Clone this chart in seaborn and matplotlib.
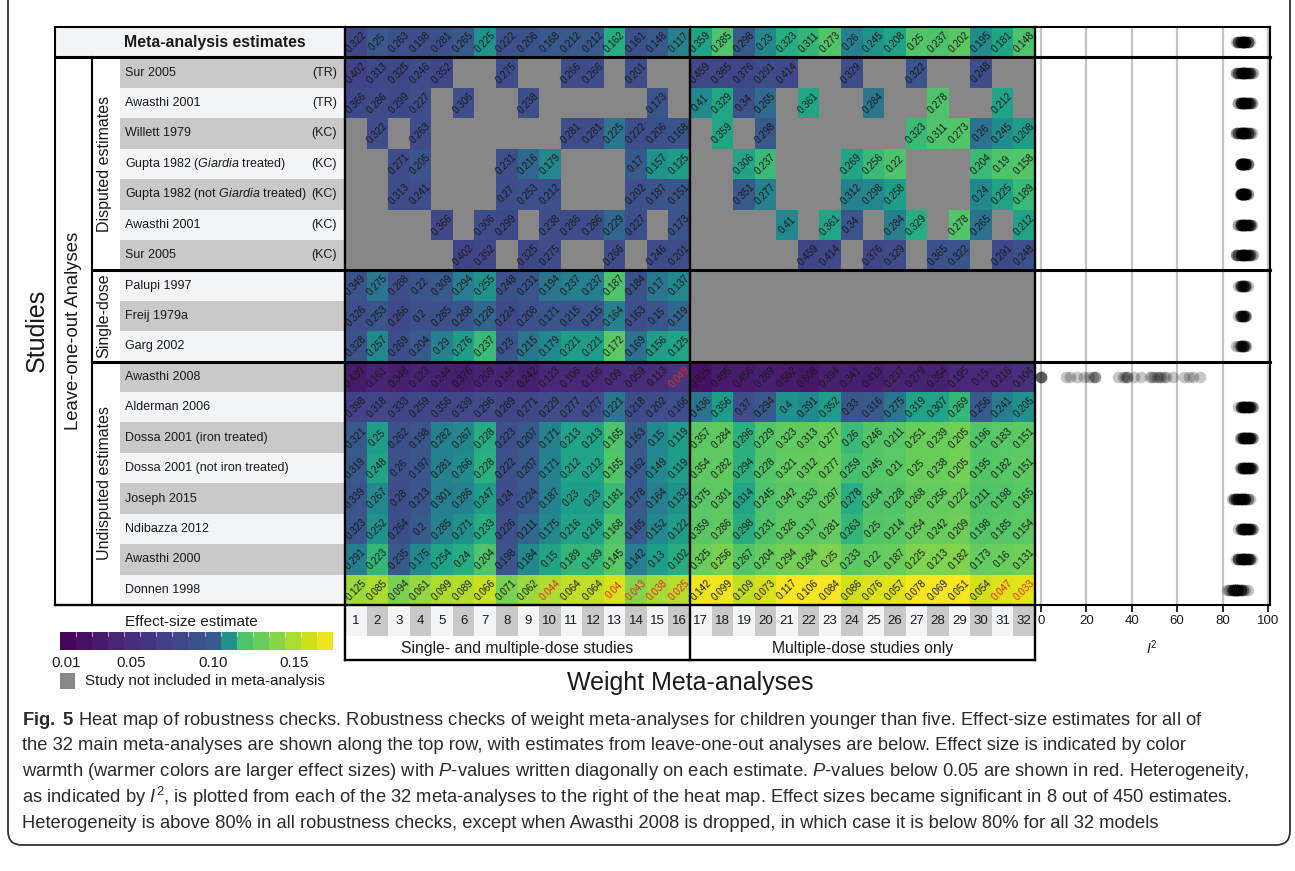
import numpy as np
import pandas as pd
import matplotlib
matplotlib.use("Agg")
import matplotlib.pyplot as plt
import seaborn as sns
from matplotlib.colors import ListedColormap, BoundaryNorm
from matplotlib.cm import ScalarMappable
from matplotlib.patches import Rectangle, FancyBboxPatch

N = np.nan

# ---------------- data ----------------
row_labels = ["Meta-analysis estimates", "Sur 2005", "Awasthi 2001", "Willett 1979",
              r"Gupta 1982 ($\mathit{Giardia}$ treated)", r"Gupta 1982 (not $\mathit{Giardia}$ treated)",
              "Awasthi 2001", "Sur 2005", "Palupi 1997", "Freij 1979a", "Garg 2002", "Awasthi 2008",
              "Alderman 2006", "Dossa 2001 (iron treated)", "Dossa 2001 (not iron treated)",
              "Joseph 2015", "Ndibazza 2012", "Awasthi 2000", "Donnen 1998"]
row_tags = ["", "(TR)", "(TR)", "(KC)", "(KC)", "(KC)", "(KC)", "(KC)",
            "", "", "", "", "", "", "", "", "", "", ""]
group_names = ["Disputed estimates", "Single-dose", "Undisputed estimates"]
group_rows = [(1, 8), (8, 11), (11, 19)]
column_numbers = list(range(1, 33))
column_groups = ["Single- and multiple-dose studies", "Multiple-dose studies only"]

# P-values written on the cells (NaN = study not included)
p_values = [
 [0.322,0.25,0.263,0.198,0.281,0.265,0.225,0.222,0.206,0.168,0.212,0.212,0.162,0.161,0.148,0.117,
  0.359,0.285,0.298,0.23,0.323,0.311,0.273,0.26,0.245,0.208,0.25,0.237,0.202,0.195,0.181,0.148],
 [0.402,0.313,0.325,0.246,0.352,N,N,0.275,N,N,0.266,0.266,N,0.201,N,N,
  0.459,0.365,0.376,0.291,0.414,N,N,0.329,N,N,0.322,N,N,0.248,N,N],
 [0.366,0.286,0.299,0.227,N,0.306,N,N,0.238,N,N,N,N,N,0.173,N,
  0.41,0.329,0.34,0.265,N,0.361,N,N,0.284,N,N,0.278,N,N,0.212,N],
 [N,0.322,N,0.263,N,N,N,N,N,N,0.281,0.281,0.225,0.222,0.206,0.168,
  N,0.359,N,0.298,N,N,N,N,N,N,0.323,0.311,0.273,0.26,0.245,0.208],
 [N,N,0.271,0.205,N,N,N,0.231,0.216,0.179,N,N,N,0.17,0.157,0.125,
  N,N,0.306,0.237,N,N,N,0.269,0.256,0.22,N,N,N,0.204,0.19,0.158],
 [N,N,0.313,0.241,N,N,N,0.27,0.253,0.212,N,N,N,0.202,0.187,0.151,
  N,N,0.351,0.277,N,N,N,0.312,0.298,0.258,N,N,N,0.24,0.225,0.189],
 [N,N,N,N,0.366,N,0.306,0.299,N,0.238,0.286,0.286,0.229,0.227,N,0.173,
  N,N,N,N,0.41,N,0.361,0.34,N,0.284,0.329,N,0.278,0.265,N,0.212],
 [N,N,N,N,N,0.402,0.352,N,0.325,0.275,N,N,0.266,N,0.246,0.201,
  N,N,N,N,N,0.459,0.414,N,0.376,0.329,N,0.365,0.322,N,0.291,0.248],
 [0.349,0.275,0.288,0.22,0.309,0.294,0.255,0.248,0.231,0.194,0.237,0.237,0.187,0.184,0.17,0.137,
  N,N,N,N,N,N,N,N,N,N,N,N,N,N,N,N],
 [0.326,0.253,0.266,0.2,0.285,0.268,0.228,0.224,0.208,0.171,0.215,0.215,0.164,0.163,0.15,0.119,
  N,N,N,N,N,N,N,N,N,N,N,N,N,N,N,N],
 [0.328,0.257,0.269,0.204,0.29,0.276,0.237,0.23,0.215,0.179,0.221,0.221,0.172,0.169,0.156,0.125,
  N,N,N,N,N,N,N,N,N,N,N,N,N,N,N,N],
 [0.439,0.161,0.348,0.123,0.244,0.376,0.209,0.144,0.242,0.123,0.106,0.106,0.09,0.059,0.113,0.049,
  0.825,0.495,0.456,0.289,0.562,0.608,0.394,0.341,0.413,0.237,0.279,0.354,0.195,0.15,0.216,0.104],
 [0.398,0.318,0.333,0.259,0.356,0.339,0.296,0.289,0.271,0.229,0.277,0.277,0.221,0.218,0.202,0.166,
  0.436,0.356,0.37,0.294,0.4,0.391,0.352,0.33,0.316,0.275,0.319,0.307,0.269,0.256,0.241,0.205],
 [0.321,0.25,0.262,0.198,0.282,0.267,0.228,0.223,0.207,0.171,0.213,0.213,0.165,0.163,0.15,0.119,
  0.357,0.284,0.296,0.229,0.323,0.313,0.277,0.26,0.246,0.211,0.251,0.239,0.205,0.196,0.183,0.151],
 [0.319,0.248,0.26,0.197,0.281,0.266,0.228,0.222,0.207,0.171,0.212,0.212,0.165,0.162,0.149,0.119,
  0.354,0.282,0.294,0.228,0.321,0.312,0.277,0.259,0.245,0.21,0.25,0.238,0.205,0.195,0.182,0.151],
 [0.339,0.267,0.28,0.213,0.301,0.286,0.247,0.24,0.224,0.187,0.23,0.23,0.181,0.178,0.164,0.132,
  0.375,0.301,0.314,0.245,0.342,0.333,0.297,0.278,0.264,0.228,0.268,0.256,0.222,0.211,0.198,0.165],
 [0.323,0.252,0.264,0.2,0.285,0.271,0.233,0.226,0.211,0.175,0.216,0.216,0.168,0.165,0.152,0.122,
  0.359,0.286,0.298,0.231,0.326,0.317,0.281,0.263,0.25,0.214,0.254,0.242,0.209,0.198,0.185,0.154],
 [0.291,0.223,0.235,0.175,0.254,0.24,0.204,0.198,0.184,0.15,0.189,0.189,0.145,0.142,0.13,0.102,
  0.325,0.256,0.267,0.204,0.294,0.284,0.25,0.233,0.22,0.187,0.225,0.213,0.182,0.173,0.16,0.131],
 [0.125,0.085,0.094,0.061,0.099,0.089,0.066,0.071,0.062,0.044,0.064,0.064,0.04,0.043,0.038,0.025,
  0.142,0.099,0.109,0.073,0.117,0.106,0.084,0.086,0.076,0.057,0.078,0.069,0.051,0.054,0.047,0.033],
]

# effect-size estimates (cell colour), read from the colours
effect_sizes = [
 [0.080,0.100,0.090,0.088,0.090,0.100,0.110,0.090,0.092,0.100,0.100,0.100,0.115,0.090,0.100,0.107,
  0.113,0.120,0.100,0.108,0.115,0.117,0.122,0.106,0.110,0.113,0.122,0.120,0.125,0.109,0.114,0.120],
 [0.075,0.082,0.080,0.085,0.080,N,N,0.085,N,N,0.085,0.085,N,0.087,N,N,
  0.080,0.080,0.080,0.085,0.082,N,N,0.085,N,N,0.098,N,N,0.088,N,N],
 [0.082,0.085,0.083,0.088,N,0.088,N,N,0.088,N,N,N,N,N,0.097,N,
  0.108,0.114,0.090,0.103,N,0.114,N,N,0.105,N,N,0.120,N,N,0.113,N],
 [N,0.085,N,0.085,N,N,N,N,N,N,0.088,0.088,0.105,0.088,0.092,0.098,
  N,0.114,N,0.100,N,N,N,N,N,N,0.118,0.120,0.122,0.104,0.109,0.112],
 [N,N,0.085,0.098,N,N,N,0.090,0.102,0.108,N,N,N,0.100,0.110,0.112,
  N,N,0.114,0.118,N,N,N,0.114,0.118,0.120,N,N,N,0.118,0.120,0.122],
 [N,N,0.085,0.088,N,N,N,0.088,0.090,0.092,N,N,N,0.090,0.096,0.098,
  N,N,0.100,0.107,N,N,N,0.107,0.108,0.112,N,N,N,0.108,0.113,0.118],
 [N,N,N,N,0.082,N,0.085,0.083,N,0.088,0.085,0.085,0.102,0.088,N,0.096,
  N,N,N,N,0.108,N,0.114,0.098,N,0.106,0.115,N,0.122,0.104,N,0.113],
 [N,N,N,N,N,0.075,0.080,N,0.080,0.085,N,N,0.085,N,0.085,0.087,
  N,N,N,N,N,0.078,0.082,N,0.080,0.085,N,0.092,0.098,N,0.082,0.090],
 [0.095,0.105,0.088,0.098,0.100,0.106,0.110,0.090,0.098,0.105,0.106,0.106,0.120,0.092,0.105,0.108,
  N,N,N,N,N,N,N,N,N,N,N,N,N,N,N,N],
 [0.088,0.098,0.082,0.090,0.090,0.096,0.102,0.083,0.090,0.098,0.097,0.097,0.107,0.088,0.097,0.102,
  N,N,N,N,N,N,N,N,N,N,N,N,N,N,N,N],
 [0.095,0.108,0.088,0.100,0.107,0.112,0.118,0.097,0.105,0.108,0.112,0.112,0.125,0.104,0.112,0.113,
  N,N,N,N,N,N,N,N,N,N,N,N,N,N,N,N],
 [0.030,0.040,0.035,0.040,0.037,0.033,0.040,0.040,0.035,0.045,0.045,0.045,0.050,0.050,0.050,0.060,
  0.020,0.030,0.030,0.035,0.030,0.028,0.035,0.035,0.033,0.040,0.040,0.037,0.045,0.045,0.045,0.055],
 [0.075,0.080,0.078,0.080,0.080,0.082,0.085,0.078,0.080,0.085,0.085,0.085,0.105,0.085,0.088,0.090,
  0.105,0.112,0.088,0.100,0.110,0.108,0.112,0.097,0.100,0.105,0.113,0.113,0.117,0.100,0.106,0.110],
 [0.100,0.112,0.090,0.097,0.107,0.108,0.115,0.090,0.100,0.107,0.113,0.113,0.120,0.100,0.108,0.112,
  0.125,0.127,0.116,0.122,0.127,0.127,0.130,0.118,0.122,0.124,0.130,0.130,0.132,0.122,0.124,0.126],
 [0.100,0.113,0.090,0.097,0.107,0.109,0.116,0.090,0.100,0.107,0.113,0.113,0.121,0.100,0.108,0.112,
  0.126,0.127,0.116,0.122,0.128,0.128,0.130,0.119,0.122,0.124,0.130,0.130,0.133,0.122,0.124,0.126],
 [0.097,0.108,0.088,0.098,0.106,0.107,0.112,0.088,0.100,0.107,0.112,0.112,0.118,0.100,0.106,0.110,
  0.124,0.126,0.114,0.120,0.125,0.125,0.128,0.115,0.120,0.122,0.128,0.128,0.130,0.120,0.122,0.124],
 [0.098,0.110,0.088,0.100,0.107,0.110,0.115,0.090,0.102,0.108,0.113,0.113,0.120,0.100,0.108,0.112,
  0.124,0.127,0.115,0.120,0.126,0.126,0.128,0.117,0.121,0.123,0.129,0.129,0.131,0.121,0.123,0.125],
 [0.106,0.117,0.100,0.108,0.113,0.115,0.120,0.098,0.108,0.113,0.117,0.117,0.124,0.106,0.112,0.115,
  0.130,0.135,0.122,0.128,0.133,0.133,0.136,0.125,0.128,0.130,0.136,0.136,0.138,0.128,0.130,0.132],
 [0.145,0.150,0.135,0.143,0.150,0.152,0.158,0.135,0.145,0.150,0.155,0.155,0.162,0.138,0.148,0.152,
  0.170,0.170,0.155,0.162,0.172,0.172,0.172,0.160,0.163,0.165,0.172,0.172,0.172,0.160,0.163,0.165],
]

# I^2 heterogeneity of each meta-analysis, per row
i2_values = [
 [86,87,87,88,88,88,89,89,89,89,90,90,90,90,91,91,92,87,88,89,89,90,90,91,88,89,90,91,87,88,89,90],
 [86,87,88,88,89,89,90,90,91,91,92,93.5,89,88,90,87,88,89,90,91,92,93,87,89,90,88,91,90,89,92,86,90],
 [87,88,88,89,89,90,90,91,91,92,93,89,90,88,91,90,87,88,89,90,91,92,93,89,90,88,91,90,89,92,88,90],
 [86,87,88,88,89,89,90,90,91,91,92,93,89,88,90,87,86,88,89,90,91,92,88,89,90,88,91,90,89,87,90,89],
 [87.5,88,88,88.5,89,89,89.5,90,90,90.5,91,89,88,89,90,88.5,88,89,89,89.5,90,90.5,91,88,89,90,89,88.5,89.5,90,91,88],
 [87.5,88,88.5,88.5,89,89,89.5,90,90,90.5,91,89,88,89,90,88.5,88,88.5,89,89.5,90,90.5,91,88,89,90,89,88.5,89.5,90,90.5,88],
 [87,88,88,89,89,90,90,91,91,92,93,89,90,88,91,90,87,88,89,90,91,92,92.5,89,90,88,91,90,89,92,88,90],
 [86,87,88,88,89,89,90,90,91,91,92,93.5,89,88,90,87,88,89,90,91,92,93,86.5,89,90,88,91,90,89,92,86,90],
 [87,87.5,88,88,88.5,89,89,89.5,90,90,90.5,91,88,89,90,89],
 [87,87.5,88,88,88.5,89,89,89.5,90,90,90.5,88,89,88,89,90],
 [86,87,87.5,88,88,88.5,89,89,89.5,90,90,90.5,88,89,88,89],
 [0,0,0,0,11,13,16,19,21,23,24,24,34,36,37,38,38,41,44,48,49,50,51,52,53,54,55,58,63,65,67,70],
 [87,88,88,89,89,89,90,90,90,91,91,91,92,92,93,93.5,88,89,89,90,90,91,91,92,92,93,89,90,91,88,90,91],
 [87.5,88,89,89,90,90,90,91,91,91,92,92,93,93.5,89,90,88,89,90,90,91,91,92,92,93,89,90,91,90,89,91,92],
 [87.5,88,89,89,90,90,90,91,91,91,92,92,93,93.5,89,90,88,89,90,90,91,91,92,92,93,89,90,91,90,89,91,92.5],
 [84,85,85,86,86,87,87,88,88,88,89,89,90,90,91,92,85,86,87,87,88,88,89,89,90,90,91,86,87,88,89,90],
 [87,88,88,89,89,90,90,90,91,91,92,92,93,93.5,89,90,88,89,89,90,90,91,91,92,92,93,89,90,91,88,90,91],
 [86,87,87,88,88,89,89,90,90,91,91,92,92,93,88,89,87,88,89,89,90,90,91,91,92,88,89,90,91,87,89,90],
 [82,83,84,84,85,85,86,86,86,87,87,88,88,89,90,91,83,84,85,85,86,86,87,87,88,88,89,85,86,87,86,85],
]

caption_lines = [
    r"$\mathbf{Fig.\ 5}$ Heat map of robustness checks. Robustness checks of weight meta-analyses for children younger than five. Effect-size estimates for all of",
    "the 32 main meta-analyses are shown along the top row, with estimates from leave-one-out analyses are below. Effect size is indicated by color",
    r"warmth (warmer colors are larger effect sizes) with $P$-values written diagonally on each estimate. $P$-values below 0.05 are shown in red. Heterogeneity,",
    r"as indicated by $I^2$, is plotted from each of the 32 meta-analyses to the right of the heat map. Effect sizes became significant in 8 out of 450 estimates.",
    "Heterogeneity is above 80% in all robustness checks, except when Awasthi 2008 is dropped, in which case it is below 80% for all 32 models",
]

# ---------------- style ----------------
sns.set_theme(style="white")
plt.rcParams["font.family"] = ["Liberation Sans", "DejaVu Sans"]
plt.rcParams["mathtext.fontset"] = "custom"
plt.rcParams["mathtext.rm"] = "Liberation Sans"
plt.rcParams["mathtext.it"] = "Liberation Sans:italic"
plt.rcParams["mathtext.bf"] = "Liberation Sans:bold"

GRAY = "#878787"
ROW_DARK = "#c9c9c9"
ROW_LIGHT = "#f3f4f6"
TXT = "#1a1a1a"

vmin, vmax = 0.006, 0.174
anchor_vals = [0.006, 0.100, 0.106, 0.112, 0.120, 0.174]
anchor_pos = [0.0, 0.27, 0.42, 0.55, 0.72, 1.0]
vir = plt.get_cmap("viridis")
grid = np.linspace(vmin, vmax, 256)
cmap = ListedColormap(vir(np.interp(grid, anchor_vals, anchor_pos)))

W, H = 1295, 871
fig = plt.figure(figsize=(W / 100, H / 100), dpi=100)
fig.patch.set_facecolor("white")


def rect(x0, y0, x1, y1):
    return [x0 / W, 1 - y1 / H, (x1 - x0) / W, (y1 - y0) / H]


X0, XM, X1 = 345, 690, 1035
Y0, Y1 = 27, 605
IX1 = 1270
NR = 19
RH = (Y1 - Y0) / NR
CW = (X1 - X0) / 32

# ---------------- heat map ----------------
ax = fig.add_axes(rect(X0, Y0, X1, Y1))
eff = np.array(effect_sizes, dtype=float)
pv = np.array(p_values, dtype=float)
annot = np.array([["" if np.isnan(v) else ("%g" % v) for v in row] for row in pv])
sns.heatmap(eff, ax=ax, cmap=cmap, vmin=vmin, vmax=vmax, mask=np.isnan(eff),
            annot=annot, fmt="", cbar=False, xticklabels=False, yticklabels=False,
            annot_kws=dict(rotation=45, fontsize=7.1, color=TXT))
ax.set_facecolor(GRAY)
for t in ax.texts:
    try:
        if float(t.get_text()) < 0.05:
            t.set_color("#e8271f")
    except ValueError:
        pass
for s in ax.spines.values():
    s.set_visible(False)

# ---------------- I^2 panel ----------------
ax2 = fig.add_axes(rect(X1, Y0, IX1, Y1))
recs = []
for r, vals in enumerate(i2_values):
    for v in vals:
        recs.append((v, r + 0.5))
df_i2 = pd.DataFrame(recs, columns=["I2", "row"])
sns.scatterplot(data=df_i2, x="I2", y="row", color="black", alpha=0.22, s=70,
                linewidth=0, ax=ax2, legend=False, zorder=3)
ax2.set_xlim(-2.64, 100.9)
ax2.set_ylim(NR, 0)
ax2.set_xticks(range(0, 101, 20))
ax2.set_yticks([])
ax2.set_xlabel("")
ax2.set_ylabel("")
ax2.grid(True, axis="x", color="#c4c4c4", lw=1.6)
ax2.set_axisbelow(True)
for k in ["top", "left", "right"]:
    ax2.spines[k].set_visible(False)
ax2.spines["bottom"].set_color("black")
ax2.spines["bottom"].set_linewidth(1.5)
ax2.tick_params(axis="x", bottom=True, direction="out", length=5, width=1.2,
                color="black", labelsize=9.5, pad=2, labelcolor=TXT)

# ---------------- overlay (table frame, labels) ----------------
ov = fig.add_axes([0, 0, 1, 1], zorder=5)
ov.set_xlim(0, W)
ov.set_ylim(H, 0)
ov.axis("off")
ov.patch.set_alpha(0)

def yrow(i):
    return Y0 + i * RH

# header
ov.add_patch(Rectangle((55, Y0), X0 - 55, RH, fc=ROW_LIGHT, ec="none"))
ov.text(215, yrow(0.5), row_labels[0], ha="center", va="center", fontsize=11.4,
        fontweight="bold", color=TXT)
# label rows
for i in range(1, NR):
    ov.add_patch(Rectangle((120, yrow(i)), X0 - 120, RH,
                           fc=ROW_DARK if i % 2 == 1 else ROW_LIGHT, ec="none"))
    ov.text(125, yrow(i + 0.5), row_labels[i], ha="left", va="center", fontsize=9, color=TXT)
    if row_tags[i]:
        ov.text(337, yrow(i + 0.5), row_tags[i], ha="right", va="center", fontsize=9, color=TXT)
# group labels
for name, (a, b) in zip(group_names, group_rows):
    ov.text(104, (yrow(a) + yrow(b)) / 2, name, rotation=90, ha="center", va="center",
            fontsize=11.5, color=TXT)
ov.text(73, (yrow(1) + Y1) / 2, "Leave-one-out Analyses", rotation=90, ha="center",
        va="center", fontsize=13.3, color=TXT)
ov.text(37, 330, "Studies", rotation=90, ha="center", va="center", fontsize=18, color=TXT)

# column number strip
for j, c in enumerate(column_numbers):
    ov.add_patch(Rectangle((X0 + j * CW, Y1), CW, 31,
                           fc=ROW_LIGHT if j % 2 == 0 else ROW_DARK, ec="none"))
    ov.text(X0 + (j + 0.5) * CW, Y1 + 16, str(c), ha="center", va="center",
            fontsize=9.5, color=TXT)
ov.text((X0 + XM) / 2, 648, column_groups[0], ha="center", va="center", fontsize=11.3, color=TXT)
ov.text((XM + X1) / 2, 648, column_groups[1], ha="center", va="center", fontsize=11.3, color=TXT)
ov.text(690, 683, "Weight Meta-analyses", ha="center", va="center", fontsize=18, color=TXT)
ov.text(1152, 648, r"$I^2$", ha="center", va="center", fontsize=10, color=TXT)

# lines
def hl(y, x0, x1, lw=1.7):
    ov.plot([x0, x1], [y, y], color="black", lw=lw, solid_capstyle="projecting")

def vl(x, y0, y1, lw=1.7):
    ov.plot([x, x], [y0, y1], color="black", lw=lw, solid_capstyle="projecting")

hl(Y0, 55, IX1, 1.5)
hl(yrow(1), 55, IX1, 2.2)
hl(yrow(8), 92, IX1, 2.2)
hl(yrow(11), 92, IX1, 2.2)
hl(Y1, 55, X1, 1.7)
hl(660, X0, X1, 1.7)
vl(55, Y0, Y1, 1.5)
vl(92, yrow(1), Y1, 1.5)
vl(X0, Y0, 660, 1.7)
vl(XM, Y0, 660, 1.7)
vl(X1, Y0, 660, 1.7)
vl(IX1, Y0, Y1, 1.5)

# legend
ov.text(191, 622, "Effect-size estimate", ha="center", va="center", fontsize=11, color=TXT)
ov.add_patch(Rectangle((60, 673), 15, 16, fc=GRAY, ec="none"))
ov.text(85, 681, "Study not included in meta-analysis", ha="left", va="center",
        fontsize=11, color=TXT)

# caption
for k, line in enumerate(caption_lines):
    ov.text(22, 720 + k * 25.8, line, ha="left", va="center", fontsize=13.2, color="#2a2a2a")

# outer frame
ov.add_patch(FancyBboxPatch((8, -40), 1282, 885, boxstyle="round,pad=0,rounding_size=14",
                            fc="none", ec="#333333", lw=1.3, clip_on=False))

# colour bar legend
cax = fig.add_axes(rect(60, 632, 333, 650), zorder=6)
bounds = np.linspace(vmin, vmax, 18)
centers = (bounds[:-1] + bounds[1:]) / 2
bin_cmap = ListedColormap(cmap((centers - vmin) / (vmax - vmin)))
cb = fig.colorbar(ScalarMappable(norm=BoundaryNorm(bounds, 17), cmap=bin_cmap), cax=cax,
                  orientation="horizontal", ticks=[0.01, 0.05, 0.10, 0.15])
cb.outline.set_visible(False)
cax.minorticks_off()
cax.set_xticklabels(["0.01", "0.05", "0.10", "0.15"])
cax.tick_params(axis="x", which="both", length=0, pad=4, labelsize=10.8, labelcolor=TXT)
for b in bounds[1:-1]:
    cax.plot([b, b], [0.8, 1.0], color="white", lw=0.8, alpha=0.6,
             transform=cax.get_xaxis_transform())

fig.savefig("out.png", dpi=100)
